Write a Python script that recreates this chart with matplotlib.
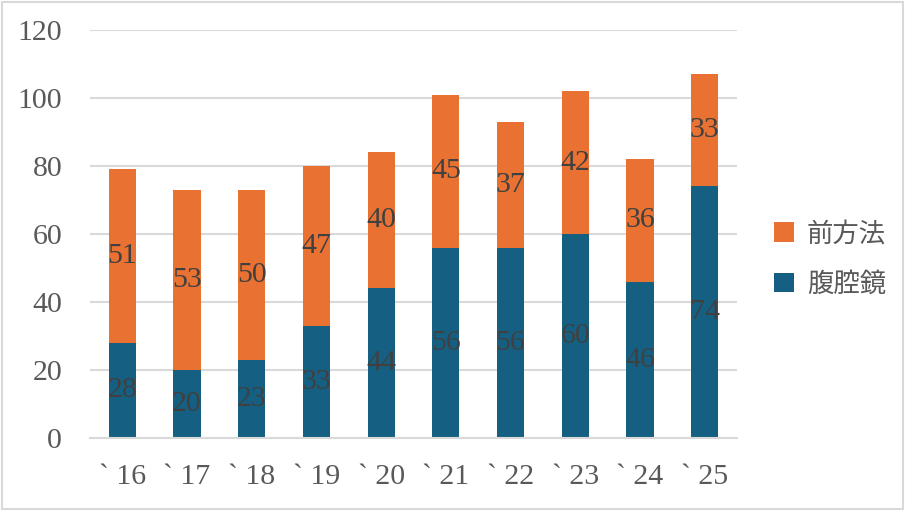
import matplotlib.pyplot as plt
from matplotlib.patches import Rectangle, Patch
import numpy as np

years = ['` 16', '` 17', '` 18', '` 19', '` 20', '` 21', '` 22', '` 23', '` 24', '` 25']
laparo = [28, 20, 23, 33, 44, 56, 56, 60, 46, 74]   # 腹腔鏡
anterior = [51, 53, 50, 47, 40, 45, 37, 42, 36, 33]  # 前方法

blue = '#156082'
orange = '#E97132'
grid_c = '#D9D9D9'
txt_c = '#595959'
lbl_c = '#404040'
num_font = ['Liberation Serif', 'DejaVu Serif']
jp_font = ['Noto Sans CJK JP', 'DejaVu Sans']

fig = plt.figure(figsize=(9.06, 5.11), dpi=100)
ax = fig.add_axes([90 / 906, 73 / 511, 647 / 906, 408 / 511])

x = np.arange(len(years))
w = 0.42
b1 = ax.bar(x, laparo, w, color=blue, zorder=2)
b2 = ax.bar(x, anterior, w, bottom=laparo, color=orange, zorder=2)

for bars, vals, bottoms in ((b1, laparo, [0] * len(laparo)), (b2, anterior, laparo)):
    for xi, v, b in zip(x, vals, bottoms):
        ax.text(xi, b + v / 2, str(v), ha='center', va='center',
                fontsize=21.5, color=lbl_c, family=num_font, zorder=3)

ax.set_xlim(-0.5, len(years) - 0.5)
ax.set_ylim(0, 120)
ax.set_yticks(range(0, 121, 20))
ax.yaxis.grid(True, color=grid_c, linewidth=1.5, zorder=0)
ax.set_axisbelow(True)
for s in ['top', 'right', 'left']:
    ax.spines[s].set_visible(False)
ax.spines['bottom'].set_color(grid_c)
ax.spines['bottom'].set_linewidth(1.5)
ax.tick_params(length=0, labelsize=21.5, labelcolor=txt_c)
ax.set_xticks(x)
ax.set_xticklabels(years)
for t in ax.get_xticklabels() + ax.get_yticklabels():
    t.set_family(num_font)
ax.tick_params(axis='y', pad=20)
ax.tick_params(axis='x', pad=19)

handles = [Patch(facecolor=orange, label='前方法'), Patch(facecolor=blue, label='腹腔鏡')]
fig.legend(handles=handles, loc='center left', bbox_to_anchor=(750 / 906, 252 / 511),
           frameon=False, prop={'family': jp_font, 'size': 19},
           handlelength=0.75, handleheight=0.75, handletextpad=0.5,
           labelspacing=0.9, labelcolor=txt_c)

fig.patches.append(Rectangle((0.002, 0.003), 0.995, 0.994, transform=fig.transFigure,
                             fill=False, edgecolor='#D9D9D9', linewidth=1.5))

fig.savefig('out.png', dpi=100)
